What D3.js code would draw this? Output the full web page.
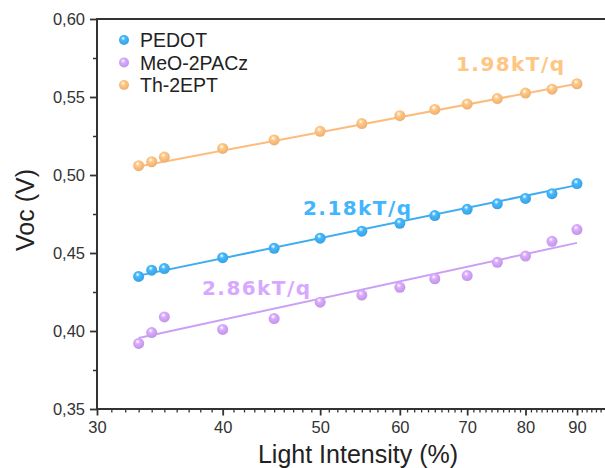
<!DOCTYPE html>
<html>
<head>
<meta charset="utf-8">
<script src="https://cdn.jsdelivr.net/npm/d3@7"></script>
<style>
    body { margin: 0; background: #fff; }
    svg { display: block; }
</style>
</head>
<body>
<div id="plot"></div>
<script>
// -----------------------------------------------------------------------
//  Data
// -----------------------------------------------------------------------

let lightIntensity = [33, 34, 35, 40, 45, 50, 55, 60, 65, 70, 75, 80, 85, 90];

let vocPEDOT = [0.435, 0.439, 0.440, 0.447, 0.453, 0.4595, 0.464, 0.469, 0.474, 0.478, 0.4815, 0.485, 0.488, 0.4945];
let vocMeO   = [0.392, 0.399, 0.409, 0.401, 0.408, 0.4185, 0.423, 0.428, 0.4335, 0.4355, 0.444, 0.448, 0.4575, 0.465];
let vocTh    = [0.506, 0.5085, 0.5115, 0.517, 0.5225, 0.528, 0.533, 0.538, 0.542, 0.5455, 0.549, 0.5525, 0.555, 0.5585];

// fitted line, value at first and last intensity
let fitPEDOT = [0.4355, 0.4935];
let fitMeO   = [0.3955, 0.4565];
let fitTh    = [0.5055, 0.5585];

let seriesNames = ["PEDOT", "MeO-2PACz", "Th-2EPT"];
let slopeLabels = ["2.18kT/q", "2.86kT/q", "1.98kT/q"];

let xTicks = [30, 40, 50, 60, 70, 80, 90];
let yTicks = [0.35, 0.40, 0.45, 0.50, 0.55, 0.60];

// -----------------------------------------------------------------------
//  Layout
// -----------------------------------------------------------------------

const width = 605, height = 468;
const plot = {left: 97, right: 623, top: 19, bottom: 409};

const colors = {
    "PEDOT": "#3eacf0",
    "MeO-2PACz": "#cc9ff6",
    "Th-2EPT": "#fdbb7c"
};

// where the slope labels sit (left x, baseline y)
const labelPos = {
    "PEDOT": [303, 215],
    "MeO-2PACz": [202, 295],
    "Th-2EPT": [456, 71]
};

const series = [
    {name: "PEDOT", values: vocPEDOT, fit: fitPEDOT, label: slopeLabels[0]},
    {name: "MeO-2PACz", values: vocMeO, fit: fitMeO, label: slopeLabels[1]},
    {name: "Th-2EPT", values: vocTh, fit: fitTh, label: slopeLabels[2]}
];

let x_scale = d3.scaleLog().domain([30, 100]).range([plot.left, plot.right]);
let y_scale = d3.scaleLinear().domain([0.35, 0.60]).range([plot.bottom, plot.top]);

const svg = d3.select("#plot").append("svg")
    .attr("width", width)
    .attr("height", height);

svg.append("rect").attr("width", width).attr("height", height).attr("fill", "#fff");

// sphere-like gradients for the markers
const defs = svg.append("defs");
seriesNames.forEach((name, i) => {
    const c = d3.color(colors[name]);
    const g = defs.append("radialGradient")
        .attr("id", "ball" + i)
        .attr("cx", "45%").attr("cy", "40%").attr("r", "60%")
        .attr("fx", "40%").attr("fy", "32%");
    g.append("stop").attr("offset", "0%").attr("stop-color", "#ffffff");
    g.append("stop").attr("offset", "35%").attr("stop-color", c.brighter(0.2));
    g.append("stop").attr("offset", "100%").attr("stop-color", c.darker(0.2));
});

// -----------------------------------------------------------------------
//  Axes
// -----------------------------------------------------------------------

const font = "'Liberation Sans', Arial, Helvetica, sans-serif";
const axisColor = "#333";

// minor ticks
let xMinor = d3.range(31, 100).filter(d => d % 10 !== 0);
let yMinor = d3.range(0.375, 0.6, 0.05);

const xAxisG = svg.append("g").attr("transform", `translate(0,${plot.bottom})`);
xAxisG.call(d3.axisBottom(x_scale).tickValues(xMinor).tickSize(3.5).tickFormat(""));
xAxisG.call(g => g.selectAll(".tick line").attr("stroke", axisColor).attr("stroke-width", 1.3));
const xMajorG = svg.append("g").attr("transform", `translate(0,${plot.bottom})`)
    .call(d3.axisBottom(x_scale).tickValues(xTicks).tickSize(6.5).tickPadding(6).tickFormat(d3.format("d")));

const yAxisG = svg.append("g").attr("transform", `translate(${plot.left},0)`);
yAxisG.call(d3.axisLeft(y_scale).tickValues(yMinor).tickSize(4).tickFormat(""));
yAxisG.call(g => g.selectAll(".tick line").attr("stroke", axisColor).attr("stroke-width", 1.5));
const yMajorG = svg.append("g").attr("transform", `translate(${plot.left},0)`)
    .call(d3.axisLeft(y_scale).tickValues(yTicks).tickSize(7).tickPadding(5)
        .tickFormat(d => d3.format(".2f")(d).replace(".", ",")));

[xAxisG, yAxisG].forEach(g => g.select(".domain").remove());
[xMajorG, yMajorG].forEach(g => {
    g.select(".domain").remove();
    g.selectAll(".tick line").attr("stroke", axisColor).attr("stroke-width", 1.8);
    g.selectAll(".tick text")
        .attr("fill", "#333")
        .attr("font-family", font)
        .attr("font-size", 16.5);
});

// frame lines (bottom, left, top)
svg.append("line")
    .attr("x1", plot.left).attr("x2", width + 5)
    .attr("y1", plot.bottom).attr("y2", plot.bottom)
    .attr("stroke", axisColor).attr("stroke-width", 2);
svg.append("line")
    .attr("x1", plot.left).attr("x2", width + 5)
    .attr("y1", plot.top).attr("y2", plot.top)
    .attr("stroke", axisColor).attr("stroke-width", 2);
svg.append("line")
    .attr("x1", plot.left).attr("x2", plot.left)
    .attr("y1", plot.top - 1).attr("y2", plot.bottom + 1)
    .attr("stroke", axisColor).attr("stroke-width", 2);

// axis titles
svg.append("text")
    .attr("x", 358).attr("y", 463)
    .attr("text-anchor", "middle")
    .attr("font-family", font)
    .attr("font-size", 25)
    .attr("fill", "#222")
    .text("Light Intensity (%)");

svg.append("text")
    .attr("transform", "translate(34,210) rotate(-90)")
    .attr("text-anchor", "middle")
    .attr("font-family", font)
    .attr("font-size", 25)
    .attr("fill", "#222")
    .text("Voc (V)");

// -----------------------------------------------------------------------
//  Fit lines, points and labels
// -----------------------------------------------------------------------

const x0 = lightIntensity[0], x1 = lightIntensity[lightIntensity.length - 1];

series.forEach((s, i) => {
    svg.append("line")
        .attr("x1", x_scale(x0)).attr("y1", y_scale(s.fit[0]))
        .attr("x2", x_scale(x1)).attr("y2", y_scale(s.fit[1]))
        .attr("stroke", colors[s.name])
        .attr("stroke-width", 2);

    svg.selectAll(".pt" + i)
        .data(lightIntensity.map((d, j) => ({x: d, y: s.values[j]})))
        .enter()
        .append("circle")
        .attr("class", "pt" + i)
        .attr("cx", d => x_scale(d.x))
        .attr("cy", d => y_scale(d.y))
        .attr("r", 5.5)
        .attr("fill", `url(#ball${i})`);

    svg.append("text")
        .attr("x", labelPos[s.name][0])
        .attr("y", labelPos[s.name][1])
        .attr("font-family", "'DejaVu Sans', Verdana, sans-serif")
        .attr("font-weight", "bold")
        .attr("font-size", 20)
        .attr("textLength", 108)
        .attr("fill", d3.color(colors[s.name]).brighter(0.15))
        .text(s.label);
});

// legend
const legend = svg.append("g");
seriesNames.forEach((name, i) => {
    const y = 40 + i * 22.5;
    legend.append("circle")
        .attr("cx", 124).attr("cy", y)
        .attr("r", 5)
        .attr("fill", `url(#ball${i})`);
    legend.append("text")
        .attr("x", 140).attr("y", y + 7)
        .attr("font-family", font)
        .attr("font-size", 19.5)
        .attr("fill", "#222")
        .text(name);
});
</script>
</body>
</html>
